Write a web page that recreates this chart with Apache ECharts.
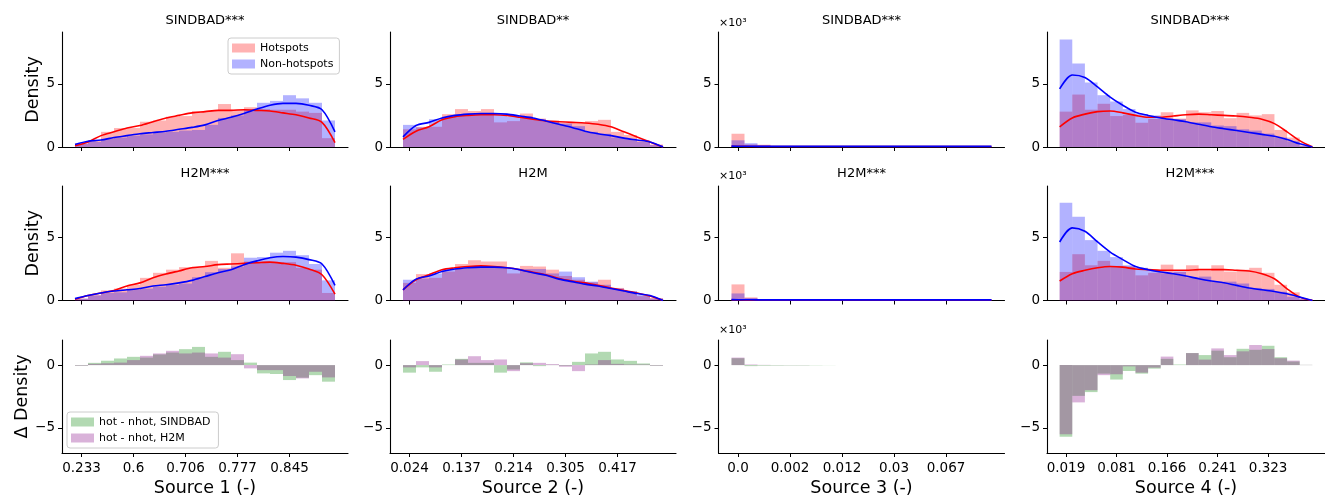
<!DOCTYPE html>
<html>
<head>
<meta charset="utf-8">
<script src="https://cdn.jsdelivr.net/npm/echarts@6/dist/echarts.min.js"></script>
<style>
  html, body { margin: 0; padding: 0; background: #fff; }
  #main { width: 1325px; height: 498px; }
</style>
</head>
<body>
<div id="main"></div>
<script>
// tick labels at bin 0, 4, 8, 12, 16 of each source
var tickLabels = [
  ["0.233", "0.6", "0.706", "0.777", "0.845"],
  ["0.024", "0.137", "0.214", "0.305", "0.417"],
  ["0.0", "0.002", "0.012", "0.03", "0.067"],
  ["0.019", "0.081", "0.166", "0.241", "0.323"]
];
var xNames = ["Source 1 (-)", "Source 2 (-)", "Source 3 (-)", "Source 4 (-)"];
var titlesSindbad = ["SINDBAD***", "SINDBAD**", "SINDBAD***", "SINDBAD***"];
var titlesH2M = ["H2M***", "H2M", "H2M***", "H2M***"];

// histogram densities, 20 bins per source (source 3 in units of 10^3)
var sindbadHot = [
  [0.3,0.55,1.2,1.5,1.5,2.0,2.1,2.4,2.45,2.85,2.85,3.4,2.95,3.15,3.0,2.95,2.95,2.8,2.7,0.7],
  [1.4,1.6,1.6,2.6,3.0,2.85,3.0,1.95,2.05,2.65,2.25,2.1,1.9,1.9,2.05,2.15,1.2,0.95,0.55,0.2],
  [1.05,0.2,0.18,0.05,0.03,0.02,0.02,0.02,0.02,0.02,0.02,0.02,0.02,0.02,0.02,0.02,0.02,0.02,0.02,0.02],
  [2.8,4.15,2.95,3.42,2.45,2.53,1.92,2.22,2.75,2.25,2.9,2.75,2.85,2.28,2.7,2.5,2.6,1.35,0.75,0.12]
];
var sindbadNonhot = [
  [0.25,0.4,0.65,0.75,0.9,1.0,1.15,1.2,1.3,1.35,1.75,2.3,2.5,2.95,3.5,3.65,4.1,3.85,3.5,2.1],
  [1.75,1.55,2.2,2.4,2.55,2.6,2.65,2.55,2.4,2.4,2.2,2.0,1.85,1.65,1.2,1.05,0.75,0.65,0.4,0.15],
  [0.53,0.3,0.13,0.08,0.05,0.04,0.04,0.03,0.03,0.03,0.03,0.03,0.03,0.03,0.03,0.03,0.03,0.03,0.03,0.03],
  [8.5,6.6,5.1,4.1,3.6,3.0,2.6,2.5,2.25,2.2,1.95,1.95,1.7,1.65,1.4,1.3,1.06,0.75,0.45,0.1]
];
var h2mHot = [
  [0.15,0.45,0.8,0.95,1.25,1.8,2.2,2.45,2.65,2.7,3.15,2.6,3.75,3.1,3.1,3.05,3.05,2.6,2.45,0.6],
  [1.4,2.1,1.8,2.3,2.9,3.2,3.1,3.1,2.15,2.75,2.7,2.45,1.95,1.65,1.45,1.65,1.0,0.7,0.35,0.2],
  [1.28,0.25,0.12,0.05,0.03,0.02,0.02,0.02,0.02,0.02,0.02,0.02,0.02,0.02,0.02,0.02,0.02,0.02,0.02,0.02],
  [2.27,3.68,2.8,3.15,2.75,2.7,2.0,2.2,2.85,2.3,2.8,2.35,2.8,2.3,2.45,2.6,2.2,1.25,0.65,0.12]
];
var h2mNonhot = [
  [0.15,0.4,0.6,0.65,0.85,0.95,1.1,1.25,1.35,1.85,2.25,2.5,2.7,3.4,3.45,3.8,3.95,3.6,2.9,1.6],
  [1.65,1.75,2.15,2.45,2.55,2.7,2.7,2.65,2.55,2.5,2.5,2.15,2.3,1.85,1.5,1.25,0.95,0.75,0.45,0.15],
  [0.56,0.2,0.1,0.06,0.04,0.04,0.03,0.03,0.03,0.03,0.03,0.03,0.03,0.03,0.03,0.03,0.03,0.03,0.03,0.03],
  [7.77,6.65,4.8,3.95,3.45,2.8,2.6,2.4,2.17,2.3,1.84,1.9,1.47,1.5,1.35,1.0,0.92,0.7,0.3,0.1]
];

// kde curves, sampled at the 21 bin edges
var sindbadHotKde = [
  [0.1,0.4,0.9,1.2,1.5,1.7,2.0,2.3,2.5,2.7,2.8,2.9,2.9,2.95,2.9,2.85,2.7,2.55,2.3,1.95,0.35],
  [0.6,1.25,1.6,2.15,2.4,2.5,2.55,2.55,2.5,2.35,2.2,2.05,2.0,1.95,1.9,1.8,1.6,1.2,0.8,0.4,0.0],
  [0.06,0.05,0.04,0.04,0.04,0.04,0.04,0.04,0.04,0.04,0.04,0.04,0.04,0.04,0.04,0.04,0.04,0.04,0.04,0.04,0.04],
  [1.6,2.3,2.6,2.8,2.85,2.7,2.5,2.35,2.35,2.45,2.55,2.6,2.55,2.5,2.45,2.35,2.2,1.85,1.2,0.5,0.0]
];
var sindbadNonhotKde = [
  [0.2,0.45,0.55,0.75,0.9,1.05,1.15,1.25,1.4,1.55,1.75,2.1,2.35,2.65,3.0,3.3,3.45,3.45,3.3,2.95,1.2],
  [0.8,1.7,1.95,2.3,2.5,2.6,2.65,2.65,2.6,2.45,2.3,2.05,1.8,1.55,1.25,1.05,0.9,0.7,0.55,0.4,0.0],
  [0.07,0.06,0.05,0.05,0.05,0.05,0.05,0.05,0.05,0.05,0.05,0.05,0.05,0.05,0.05,0.05,0.05,0.05,0.05,0.05,0.05],
  [4.6,5.7,5.5,4.75,3.95,3.3,2.75,2.5,2.3,2.15,2.0,1.8,1.6,1.45,1.3,1.15,1.0,0.85,0.6,0.25,0.0]
];
var h2mHotKde = [
  [0.1,0.4,0.6,0.8,1.15,1.4,1.8,2.1,2.35,2.6,2.7,2.85,2.9,2.95,3.0,3.05,2.95,2.8,2.5,2.05,0.5],
  [0.85,1.65,2.05,2.45,2.6,2.7,2.75,2.7,2.6,2.45,2.25,2.05,1.75,1.55,1.4,1.2,1.0,0.8,0.6,0.35,0.0],
  [0.06,0.05,0.04,0.04,0.04,0.04,0.04,0.04,0.04,0.04,0.04,0.04,0.04,0.04,0.04,0.04,0.04,0.04,0.04,0.04,0.04],
  [1.55,2.13,2.4,2.6,2.7,2.65,2.5,2.45,2.4,2.4,2.4,2.45,2.45,2.45,2.4,2.35,2.13,1.73,0.93,0.27,0.0]
];
var h2mNonhotKde = [
  [0.15,0.4,0.6,0.75,0.85,0.95,1.15,1.25,1.4,1.6,1.9,2.2,2.45,2.85,3.15,3.4,3.5,3.45,3.25,2.9,1.2],
  [0.85,1.7,1.95,2.3,2.5,2.6,2.65,2.65,2.6,2.45,2.2,2.0,1.7,1.5,1.3,1.15,0.95,0.75,0.55,0.4,0.0],
  [0.07,0.06,0.05,0.05,0.05,0.05,0.05,0.05,0.05,0.05,0.05,0.05,0.05,0.05,0.05,0.05,0.05,0.05,0.05,0.05,0.05],
  [4.65,5.77,5.5,4.65,3.85,3.25,2.7,2.45,2.26,2.13,1.95,1.73,1.55,1.41,1.2,1.0,0.85,0.72,0.53,0.27,0.0]
];

// hot - nhot differences per bin
var sindbadDelta = [
  [-0.05,0.18,0.35,0.53,0.66,0.6,0.85,1.0,1.27,1.45,0.66,1.06,0.4,0.2,-0.66,-0.71,-1.19,-1.0,-0.8,-1.32],
  [-0.6,-0.18,-0.53,0.05,0.5,0.18,0.18,-0.6,-0.35,0.22,-0.08,0.02,-0.05,0.26,0.93,1.06,0.45,0.34,0.13,-0.05],
  [0.55,-0.08,-0.05,-0.04,-0.03,-0.03,-0.02,-0.01,0,0,0,0,0,0,0,0,0,0,0,0],
  [-5.7,-2.45,-2.15,-0.68,-1.15,-0.47,-0.68,-0.28,0.5,0.05,0.96,0.8,1.15,0.63,1.3,1.22,1.54,0.63,0.29,0.02]
];
var h2mDelta = [
  [-0.05,0.1,0.15,0.2,0.4,0.74,0.93,1.14,0.93,1.0,0.93,0.6,0.87,-0.26,-0.4,-0.4,-0.87,-1.06,-0.53,-0.98],
  [-0.18,0.32,-0.18,0.0,0.45,0.71,0.4,0.45,-0.48,0.15,0.18,0.08,-0.13,-0.48,0.05,0.4,0.1,0.05,0.05,-0.05],
  [0.6,0.05,0.02,-0.01,-0.01,-0.01,0,0,0,0,0,0,0,0,0,0,0,0,0,0],
  [-5.5,-2.97,-2.0,-0.8,-0.73,-0.1,-0.6,-0.2,0.68,0.0,0.96,0.44,1.33,0.8,1.1,1.6,1.28,0.55,0.36,0.02]
];

(function () {
  var FONT = "DejaVu Sans";
  var colLeft = [62, 390, 718.5, 1047];
  var colWidth = 286;
  var rowTop = [32, 186, 340];
  var rowHeight = [115, 114.5, 113];
  var tickPos = [0, 4, 8, 12, 16];

  var COL_HOT = "rgba(255,0,0,0.3)";
  var COL_NHOT = "rgba(0,0,255,0.3)";
  var COL_SIND = "rgba(0,128,0,0.3)";
  var COL_H2M = "rgba(128,0,128,0.3)";

  var myChart = echarts.init(document.getElementById("main"));

  var grids = [], xAxes = [], yAxes = [], series = [], graphics = [];

  // one rectangle per bin, from 0 to the bin value
  function barSeries(name, values, g, color) {
    return {
      name: name,
      type: "custom",
      xAxisIndex: g,
      yAxisIndex: g,
      itemStyle: { color: color },
      encode: { x: 0, y: 1 },
      data: values.map(function (v, i) { return [i, v]; }),
      renderItem: function (params, api) {
        var i = api.value(0), v = api.value(1);
        var p0 = api.coord([i - 0.5, 0]);
        var p1 = api.coord([i + 0.5, v]);
        return {
          type: "rect",
          shape: {
            x: p0[0],
            y: Math.min(p0[1], p1[1]),
            width: p1[0] - p0[0],
            height: Math.abs(p1[1] - p0[1])
          },
          style: { fill: color }
        };
      }
    };
  }

  function kdeSeries(values, g, color) {
    return {
      name: "kde",
      type: "line",
      xAxisIndex: g,
      yAxisIndex: g,
      showSymbol: false,
      smooth: 0.3,
      lineStyle: { color: color, width: 1.6 },
      data: values.map(function (v, i) { return [i - 0.5, v]; }),
      z: 3
    };
  }

  for (var row = 0; row < 3; row++) {
    for (var col = 0; col < 4; col++) {
      var g = row * 4 + col;
      grids.push({ left: colLeft[col], top: rowTop[row], width: colWidth, height: rowHeight[row] });

      (function (c) {
        xAxes.push({
          type: "value",
          gridIndex: g,
          min: -1.5,
          max: 20.5,
          name: row === 2 ? xNames[c] : "",
          nameLocation: "middle",
          nameGap: 26,
          nameTextStyle: { fontFamily: FONT, fontSize: 17.5, color: "#000" },
          axisLine: { show: true, onZero: false, lineStyle: { color: "#000", width: 1.1 } },
          axisTick: { show: true, length: 4, customValues: tickPos, lineStyle: { color: "#000", width: 1 } },
          axisLabel: {
            show: row === 2,
            customValues: tickPos,
            margin: 8,
            fontFamily: FONT,
            fontSize: 13.5,
            color: "#000",
            formatter: function (v) { return tickLabels[c][Math.round(v / 4)]; }
          },
          splitLine: { show: false }
        });
      })(col);

      var yName = "";
      if (col === 0) yName = row === 2 ? "Δ Density" : "Density";
      var yTicks = row === 2 ? [-5, 0] : [0, 5];
      yAxes.push({
        type: "value",
        gridIndex: g,
        min: row === 2 ? -7 : 0,
        max: row === 2 ? 2 : 9.1,
        name: yName,
        nameLocation: "middle",
        nameGap: 20,
        nameTextStyle: { fontFamily: FONT, fontSize: 17.5, color: "#000" },
        axisLine: { show: true, onZero: false, lineStyle: { color: "#000", width: 1.1 } },
        axisTick: { show: true, length: 4, customValues: yTicks, lineStyle: { color: "#000", width: 1 } },
        axisLabel: {
          customValues: yTicks,
          margin: 7,
          fontFamily: FONT,
          fontSize: 13.5,
          color: "#000",
          formatter: function (v) { return v < 0 ? "\u2212" + Math.abs(v) : String(v); }
        },
        splitLine: { show: false }
      });

      if (row < 2) {
        var src = row === 0;
        series.push(barSeries("Hotspots", (src ? sindbadHot : h2mHot)[col], g, COL_HOT));
        series.push(barSeries("Non-hotspots", (src ? sindbadNonhot : h2mNonhot)[col], g, COL_NHOT));
        series.push(kdeSeries((src ? sindbadHotKde : h2mHotKde)[col], g, "#ff0000"));
        series.push(kdeSeries((src ? sindbadNonhotKde : h2mNonhotKde)[col], g, "#0000ff"));
        graphics.push({
          type: "text",
          x: colLeft[col] + colWidth / 2,
          y: row === 0 ? 21 : 174,
          style: {
            text: (src ? titlesSindbad : titlesH2M)[col],
            font: "13px '" + FONT + "'",
            fill: "#000",
            align: "center",
            verticalAlign: "middle"
          }
        });
      } else {
        series.push(barSeries("hot - nhot, SINDBAD", sindbadDelta[col], g, COL_SIND));
        series.push(barSeries("hot - nhot, H2M", h2mDelta[col], g, COL_H2M));
      }
    }
  }

  // x10^3 offset labels of source 3
  [23, 176, 330].forEach(function (y) {
    graphics.push({
      type: "text",
      x: 719,
      y: y,
      style: { text: "\u00d710\u00b3", font: "11px '" + FONT + "'", fill: "#000", verticalAlign: "middle" }
    });
  });

  var legendBase = {
    orient: "vertical",
    icon: "rect",
    itemWidth: 23,
    itemHeight: 9,
    itemGap: 4,
    selectedMode: false,
    borderColor: "#cccccc",
    borderWidth: 1,
    borderRadius: 3,
    backgroundColor: "rgba(255,255,255,0.8)",
    textStyle: { fontFamily: FONT, fontSize: 11, color: "#000", lineHeight: 12 }
  };

  var option = {
    animation: false,
    backgroundColor: "#fff",
    grid: grids,
    xAxis: xAxes,
    yAxis: yAxes,
    legend: [
      Object.assign({}, legendBase, {
        left: 228,
        top: 38,
        padding: [4, 6, 4, 4],
        data: [
          { name: "Hotspots", itemStyle: { color: COL_HOT } },
          { name: "Non-hotspots", itemStyle: { color: COL_NHOT } }
        ]
      }),
      Object.assign({}, legendBase, {
        left: 67,
        top: 412,
        padding: [4, 8, 4, 4],
        data: [
          { name: "hot - nhot, SINDBAD", itemStyle: { color: COL_SIND } },
          { name: "hot - nhot, H2M", itemStyle: { color: COL_H2M } }
        ]
      })
    ],
    graphic: graphics,
    series: series
  };

  myChart.setOption(option);

  window.addEventListener("resize", function () {
    myChart.resize();
  });
})();
</script>
</body>
</html>
